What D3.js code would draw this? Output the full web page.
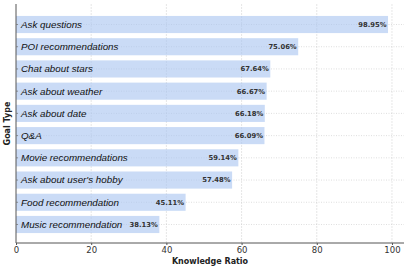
<!DOCTYPE html>
<html>
<head>
<meta charset="utf-8">
<script src="https://cdn.jsdelivr.net/npm/d3@7"></script>
<style>
body { margin: 0; background: #fff; }
</style>
</head>
<body>
<div id="chart"></div>
<script>
var goals = ["Ask questions", "POI recommendations", "Chat about stars", "Ask about weather",
    "Ask about date", "Q&A", "Movie recommendations", "Ask about user's hobby",
    "Food recommendation", "Music recommendation"];
var ratios = [98.95, 75.06, 67.64, 66.67, 66.18, 66.09, 59.14, 57.48, 45.11, 38.13];
var xTicks = [0, 20, 40, 60, 80, 100];

(function () {
    var width = 409, height = 268;
    var left = 16, right = 404, top = 4, bottom = 243;

    var data = goals.map(function (g, i) { return {goal: g, value: ratios[i]}; });

    var svg = d3.select("#chart").append("svg")
        .attr("width", width)
        .attr("height", height);

    var x = d3.scaleLinear().domain([0, 103.2]).range([left, right]);
    var y = d3.scaleBand().domain(goals).range([13.4, 235.6]).paddingInner(0.23).paddingOuter(0.115);

    // grid
    svg.append("g").selectAll("line")
        .data(xTicks.slice(1))
        .join("line")
        .attr("x1", d => x(d)).attr("x2", d => x(d))
        .attr("y1", top).attr("y2", bottom)
        .attr("stroke", "#e0e0e0").attr("stroke-width", 0.8)
        .attr("stroke-dasharray", "2,1");

    svg.append("g").selectAll("line")
        .data(goals)
        .join("line")
        .attr("x1", left).attr("x2", right)
        .attr("y1", d => y(d) + y.bandwidth() / 2).attr("y2", d => y(d) + y.bandwidth() / 2)
        .attr("stroke", "#d0d0d0").attr("stroke-width", 0.7)
        .attr("stroke-dasharray", "1,1.5");

    // bars
    svg.append("g").selectAll("rect")
        .data(data)
        .join("rect")
        .attr("x", x(0))
        .attr("y", d => y(d.goal))
        .attr("width", d => x(d.value) - x(0))
        .attr("height", y.bandwidth())
        .attr("fill", "#a9c5f0")
        .attr("fill-opacity", 0.62);

    // category labels inside bars
    svg.append("g").selectAll("text")
        .data(data)
        .join("text")
        .attr("x", x(0) + 5)
        .attr("y", d => y(d.goal) + y.bandwidth() / 2)
        .attr("dy", "0.35em")
        .attr("font-family", "Liberation Sans, Arial, sans-serif")
        .attr("font-style", "italic")
        .attr("font-size", 9.8)
        .attr("fill", "#111")
        .text(d => d.goal);

    // value labels
    svg.append("g").selectAll("text")
        .data(data)
        .join("text")
        .attr("x", d => x(d.value) - 1.5)
        .attr("y", d => y(d.goal) + y.bandwidth() / 2)
        .attr("dy", "0.35em")
        .attr("text-anchor", "end")
        .attr("font-family", "DejaVu Sans, sans-serif")
        .attr("font-weight", "bold")
        .attr("font-size", 6.8)
        .attr("fill", "#333")
        .text(d => d.value.toFixed(2) + "%");

    // axes
    var xAxis = svg.append("g")
        .attr("transform", "translate(0," + bottom + ")")
        .call(d3.axisBottom(x).tickValues(xTicks).tickSize(2).tickPadding(2));
    xAxis.select(".domain").attr("stroke", "#555").attr("d", "M" + left + ",0H" + right);
    xAxis.selectAll(".tick line").attr("stroke", "#555");
    xAxis.selectAll("text")
        .attr("font-family", "DejaVu Sans, sans-serif")
        .attr("font-size", 8.5)
        .attr("fill", "#333");

    svg.append("line")
        .attr("x1", left).attr("x2", left)
        .attr("y1", top).attr("y2", bottom)
        .attr("stroke", "#555").attr("stroke-width", 1);

    svg.append("g").selectAll("line")
        .data(goals)
        .join("line")
        .attr("x1", left).attr("x2", left + 2)
        .attr("y1", d => y(d) + y.bandwidth() / 2).attr("y2", d => y(d) + y.bandwidth() / 2)
        .attr("stroke", "#777").attr("stroke-width", 0.8);

    svg.append("text")
        .attr("x", (left + right) / 2)
        .attr("y", 264)
        .attr("text-anchor", "middle")
        .attr("font-family", "DejaVu Sans, sans-serif")
        .attr("font-weight", "bold")
        .attr("font-size", 8)
        .attr("fill", "#222")
        .text("Knowledge Ratio");

    svg.append("text")
        .attr("transform", "translate(10," + ((top + bottom) / 2) + ") rotate(-90)")
        .attr("text-anchor", "middle")
        .attr("font-family", "DejaVu Sans, sans-serif")
        .attr("font-weight", "bold")
        .attr("font-size", 8)
        .attr("fill", "#222")
        .text("Goal Type");
})();
</script>
</body>
</html>
